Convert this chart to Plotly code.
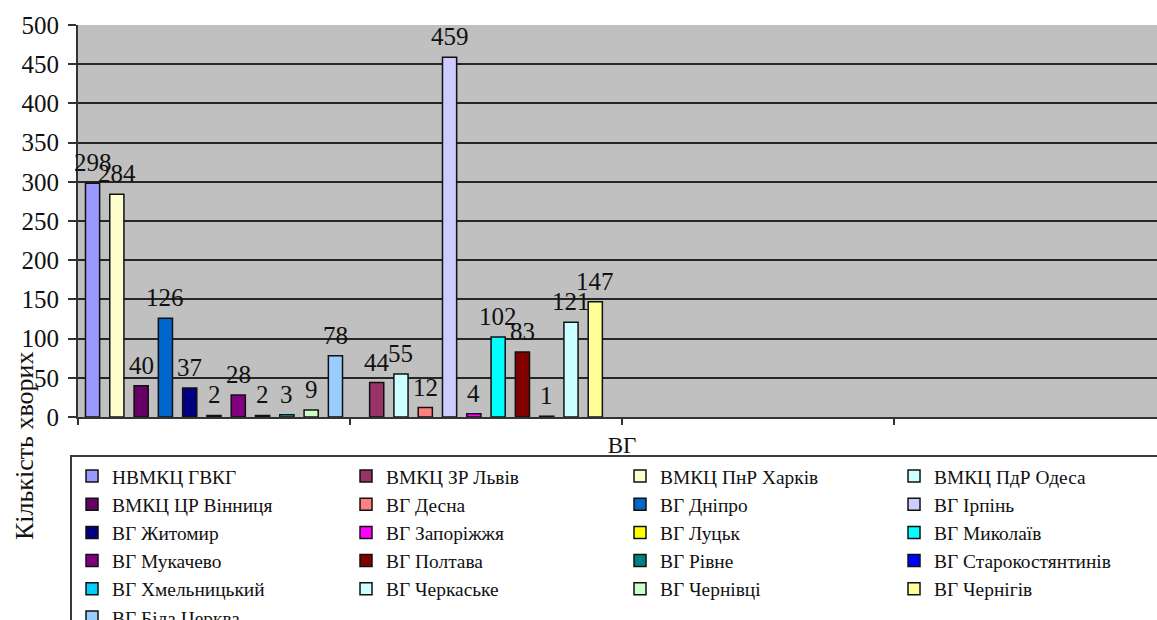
import plotly.graph_objects as go

# ---------------- data ----------------
series_names = [
    "НВМКЦ ГВКГ", "ВМКЦ ЗР Львів", "ВМКЦ ПнР Харків", "ВМКЦ ПдР Одеса",
    "ВМКЦ ЦР Вінниця", "ВГ Десна", "ВГ Дніпро", "ВГ Ірпінь",
    "ВГ Житомир", "ВГ Запоріжжя", "ВГ Луцьк", "ВГ Миколаїв",
    "ВГ Мукачево", "ВГ Полтава", "ВГ Рівне", "ВГ Старокостянтинів",
    "ВГ Хмельницький", "ВГ Черкаське", "ВГ Чернівці", "ВГ Чернігів",
    "ВГ Біла Церква",
]
series_values = [298, 44, 284, 55, 40, 12, 126, 459, 37, 4, 2, 102,
                 28, 83, 2, 1, 3, 121, 9, 147, 78]
# category slot (0 = first block, 1 = second block) each series is drawn in
series_group = [0, 1, 0, 1, 0, 1, 0, 1, 0, 1, 0, 1,
                0, 1, 0, 1, 0, 1, 0, 1, 0]
series_colors = [
    "#9999FF", "#993366", "#FFFFCC", "#CCFFFF",
    "#660066", "#FF8080", "#0066CC", "#CCCCFF",
    "#000080", "#FF00FF", "#FFFF00", "#00FFFF",
    "#800080", "#800000", "#008080", "#0000FF",
    "#00CCFF", "#CCFFFF", "#CCFFCC", "#FFFF99",
    "#99CCFF",
]
x_tick_vals = [0, 1, 2, 3]
x_tick_text = ["", "", "ВГ", ""]
y_title = "Кількість хворих"

# ---------------- styling ----------------
SERIF = "Liberation Serif, Times New Roman, serif"
SLOT = 0.0893      # spacing between bars within a category (category units)
BAR_W = 0.052      # bar width (category units)
AX = "#333333"
TXT = "#111111"

fig = go.Figure()

n_groups = max(series_group) + 1
members = {g: [i for i, gg in enumerate(series_group) if gg == g] for g in range(n_groups)}

annotations = []
for i, (name, val, col, g) in enumerate(zip(series_names, series_values,
                                             series_colors, series_group)):
    idx = members[g]
    k = idx.index(i)
    n = len(idx)
    xpos = g + 0.5 + (k - (n - 1) / 2) * SLOT
    fig.add_trace(go.Bar(
        x=[xpos], y=[val], name=name, width=BAR_W,
        marker=dict(color=col, line=dict(color="#111111", width=1.5)),
        hoverinfo="name+y",
    ))
    annotations.append(dict(
        x=xpos, y=val, xref="x", yref="y", text=str(val),
        showarrow=False, xanchor="center", yanchor="bottom", yshift=5,
        font=dict(family=SERIF, size=25, color=TXT),
    ))

annotations.append(dict(
    text=y_title, textangle=-90,
    xref="paper", yref="paper",
    x=-0.05, y=-0.074, xanchor="center", yanchor="middle",
    showarrow=False,
    font=dict(family=SERIF, size=26, color=TXT),
))

fig.update_layout(
    width=1157, height=620,
    barmode="overlay",
    paper_bgcolor="white",
    plot_bgcolor="#C0C0C0",
    margin=dict(l=78, r=0, t=25, b=203, autoexpand=False),
    font=dict(family=SERIF, color=TXT),
    showlegend=True,
    legend=dict(
        orientation="h",
        x=-0.0074, xanchor="left",
        y=-0.0965, yanchor="top",
        traceorder="normal",
        entrywidth=229, entrywidthmode="pixels",
        font=dict(family=SERIF, size=19.4, color=TXT),
        bgcolor="white",
        bordercolor="#3a3a3a", borderwidth=2,
        itemclick=False, itemdoubleclick=False,
    ),
    xaxis=dict(
        range=[0, 3.967],
        tickmode="array", tickvals=x_tick_vals, ticktext=x_tick_text,
        ticks="outside", ticklen=6, tickwidth=2, tickcolor=AX,
        showline=True, linecolor=AX, linewidth=2,
        showgrid=False, zeroline=False,
        tickfont=dict(family=SERIF, size=23, color=TXT),
    ),
    yaxis=dict(
        range=[0, 500], dtick=50,
        ticks="outside", ticklen=8, tickwidth=2, tickcolor=AX,
        showline=True, linecolor=AX, linewidth=2,
        showgrid=True, gridcolor="#262626", gridwidth=2,
        zeroline=False,
        tickfont=dict(family=SERIF, size=25, color=TXT),
        ticklabelstandoff=4,
    ),
    annotations=annotations,
)

fig.write_html("out.html")
